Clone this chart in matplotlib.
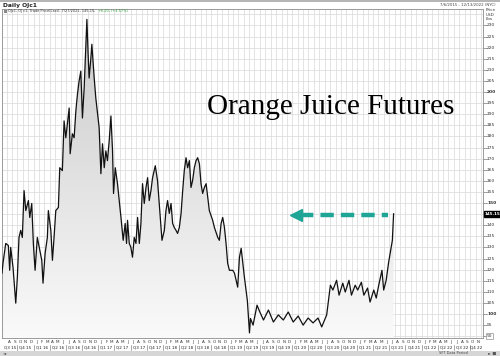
import numpy as np
import pandas as pd
import matplotlib
matplotlib.use("Agg")
import matplotlib.pyplot as plt
import matplotlib.dates as mdates
import matplotlib.transforms as mtransforms
from matplotlib.colors import LinearSegmentedColormap
from matplotlib.patches import Rectangle

# ── data: OJc1 weekly trace (USD/lb), weeks counted from 2015-07-06 ─────────
start = pd.Timestamp("2015-07-06")
weeks = [0, 0.8, 3, 5.1, 6.2, 7, 8.9, 11.1, 12.4, 13.7, 15.1, 16.4, 17.8, 19.2,
         21.3, 22.4, 24, 25.3, 26.7, 28.5, 30.5, 32.1, 33.1, 34.8, 36.6, 37.4,
         39.4, 40.7, 42, 43.4, 45.5, 46.6, 48.7, 50.1, 51.5, 52.8, 54.2, 55,
         56.8, 58.2, 59.6, 60.9, 62.2, 63.6, 64.9, 66.3, 67.7, 68.5, 69.5, 70.3,
         71.7, 72.5, 74.4, 75.7, 77.8, 78.4, 79.8, 81.1, 82.5, 83.8, 85.1, 86.5,
         87.9, 89.2, 90, 91.4, 93.2, 94.6, 96, 97.8, 99.4, 100.5, 101.3, 102.7,
         104, 105.3, 106.7, 108.1, 109.4, 110.8, 112.1, 113.4, 114.8, 116.2,
         117.5, 118.8, 120.2, 121.5, 123.7, 125.5, 126.9, 128.3, 129.1, 131,
         132.3, 133.6, 135, 136.4, 137.7, 139, 140.4, 141.7, 143.1, 144.5,
         145.8, 147.1, 148.5, 149.8, 151.2, 152.5, 153.8, 155.2, 156.6, 157.9,
         159.3, 160.6, 161.9, 163.3, 164.7, 166, 167.3, 170, 171.4, 174.1,
         175.4, 176.8, 178.1, 179.5, 180.8, 182.1, 183.5, 186.2, 187.6, 190.2,
         191.6, 193, 194.3, 195.6, 198, 199.7, 200.5, 202.6, 205.8, 208, 211,
         215, 219, 223, 227, 231, 235, 239, 243, 247, 251, 255, 258, 262, 265,
         267, 270, 272, 275, 277, 280, 282, 285, 287, 290, 292, 295, 297, 300,
         302, 304, 306.6, 308, 310, 312, 315, 316]
prices = [118.4, 122.9, 131.8, 130.9, 119.7, 130.0, 121.0, 104.9, 116.6, 134.5,
          137.7, 134.5, 155.6, 146.6, 151.1, 143.5, 149.8, 131.8, 119.7, 134.5,
          128.7, 124.2, 113.9, 127.4, 134.5, 146.6, 137.7, 124.2, 134.5, 146.6,
          148.0, 165.9, 164.6, 187.0, 179.4, 185.7, 192.8, 172.2, 181.2, 179.4,
          191.5, 199.1, 204.9, 209.4, 188.3, 201.8, 221.5, 232.7, 217.0, 206.3,
          215.2, 221.5, 206.3, 197.3, 187.0, 183.9, 163.2, 176.7, 165.9, 173.5,
          169.1, 178.0, 189.2, 173.5, 154.3, 165.9, 158.7, 151.1, 143.5, 133.2,
          140.8, 131.8, 142.2, 131.8, 130.0, 125.6, 134.5, 131.8, 143.5, 131.8,
          140.8, 158.7, 149.8, 157.0, 161.4, 151.1, 155.6, 161.4, 166.8, 160.1,
          149.8, 139.0, 133.2, 137.7, 146.6, 151.1, 145.3, 149.8, 140.8, 139.0,
          137.7, 136.3, 139.0, 145.3, 155.6, 164.6, 170.4, 165.9, 169.1, 157.0,
          160.1, 165.9, 169.1, 170.4, 167.7, 158.7, 154.3, 157.0, 158.7, 152.5,
          146.6, 142.2, 139.0, 134.5, 133.2, 140.8, 143.5, 139.0, 131.8, 122.9,
          119.7, 119.7, 118.4, 112.1, 125.6, 129.6, 122.9, 116.6, 106.0, 91.5,
          98.0, 95.0, 104.0, 101.0, 97.3, 101.8, 96.4, 99.6, 97.3, 100.9,
          96.4, 99.1, 95.0, 98.2, 96.0, 98.2, 94.2, 99.6, 113.0, 110.8,
          115.2, 108.5, 113.9, 109.9, 115.2, 108.5, 113.0, 110.8, 114.3, 108.5,
          111.7, 105.4, 110.8, 107.2, 113.0, 119.7, 110.8, 115.2, 123.3, 133.2,
          145.15]
last_price = 145.15
y_ticks = list(range(90, 235, 5))
x_start, x_end = pd.Timestamp("2015-07-06"), pd.Timestamp("2022-12-13")

dates = mdates.date2num(start + pd.to_timedelta(np.array(weeks) * 7, unit="D"))
x0n, x1n = mdates.date2num(x_start), mdates.date2num(x_end)

# ── figure ──────────────────────────────────────────────────────────────────
W, H = 500, 356
fig = plt.figure(figsize=(W / 100, H / 100), dpi=100)
fig.patch.set_facecolor("white")

def fx(px):
    return px / W

def fy(py):
    return 1 - py / H

ax = fig.add_axes([fx(2), fy(338), fx(483) - fx(2), fy(9) - fy(338)])
ylo, yhi = 89.2, 237.4

# grid: monthly verticals, every 5 horizontally
months = pd.date_range("2015-08-01", "2022-12-01", freq="MS")
for m in months:
    ax.axvline(mdates.date2num(m), color="#dedede", lw=0.6, zorder=0)
for t in y_ticks + [235]:
    ax.axhline(t, color="#dedede", lw=0.6, zorder=0)

# gradient fill under the line
poly = ax.fill_between(dates, prices, ylo, facecolor="none", edgecolor="none")
cmap = LinearSegmentedColormap.from_list("g", ["#fafafa", "#c9c9c9"])
grad = np.linspace(0, 1, 256).reshape(-1, 1)
img = ax.imshow(grad, cmap=cmap, extent=[x0n, x1n, ylo, 235], aspect="auto",
                origin="lower", zorder=1, interpolation="bilinear")
img.set_clip_path(poly.get_paths()[0], transform=ax.transData)
ax.plot(dates, prices, color="#111111", lw=0.9, zorder=3)

ax.set_xlim(x0n, x1n)
ax.set_ylim(ylo, yhi)
ax.set_xticks([])
ax.set_yticks([])
for s in ax.spines.values():
    s.set_color("#9a9a9a")
    s.set_linewidth(0.7)

# ── right price axis ────────────────────────────────────────────────────────
ry = mtransforms.blended_transform_factory(fig.transFigure, ax.transData)
tick_tr = mtransforms.blended_transform_factory(ax.transAxes, ax.transData)
for t in y_ticks:
    bold = t % 50 == 0
    ax.plot([1.0, 1.008], [t, t], transform=tick_tr, color="#777777", lw=0.5,
            clip_on=False)
    if abs(t - last_price) < 3 or t == 90:
        continue
    fig.text(fx(487), t, str(t), transform=ry, fontsize=3.2, va="center",
             ha="left", color="#333333", fontweight="bold" if bold else "normal")
fig.text(fx(487), 90, "90", transform=ry, fontsize=3.2, va="center", ha="left",
         color="#333333", bbox=dict(boxstyle="square,pad=0.2", fc="white",
                                    ec="#777777", lw=0.4))
fig.text(fx(484.5), last_price, "145.15", transform=ry, fontsize=3.0, va="center",
         ha="left", color="white", fontweight="bold",
         bbox=dict(boxstyle="square,pad=0.2", fc="black", ec="black"))
fig.text(fx(486), fy(8), "Price\nUSD\nLbs", fontsize=3, va="top", ha="left",
         color="#333333", linespacing=1.2)

# ── bottom time axis ────────────────────────────────────────────────────────
bt = mtransforms.blended_transform_factory(ax.transData, fig.transFigure)
for m in months:
    mid = m + pd.Timedelta(days=15)
    if mid > x_end:
        continue
    fig.text(mdates.date2num(mid), fy(342), m.strftime("%b")[0], transform=bt,
             fontsize=3, ha="center", va="center", color="#333333")
quarters = pd.date_range("2015-07-01", "2022-10-01", freq="QS")
for q in quarters:
    q_end = q + pd.DateOffset(months=3)
    lo, hi = max(q, x_start), min(q_end, x_end)
    mid = lo + (hi - lo) / 2
    fig.text(mdates.date2num(mid), fy(347.5), f"Q{q.quarter} {q.strftime('%y')}",
             transform=bt, fontsize=3, ha="center", va="center", color="#222222")
    if q > x_start:
        qn = mdates.date2num(q)
        ax.plot([qn, qn], [fy(344.5), fy(350)], transform=bt, color="#666666",
                lw=0.4, clip_on=False)

# ── header / footer ─────────────────────────────────────────────────────────
fig.add_artist(Rectangle((0, fy(1.5)), 1, fy(0) - fy(1.5), transform=fig.transFigure,
                         fc="#b5b5b5", ec="none"))
fig.text(fx(3), fy(5), "Daily OJc1", fontsize=4.3, fontweight="bold",
         va="center", ha="left", color="#222222")
fig.text(fx(496), fy(5.5), "7/6/2015 - 12/13/2022 (NYC)", fontsize=2.8,
         va="center", ha="right", color="#444444")
fig.add_artist(Rectangle((0, 0), 1, fy(351), transform=fig.transFigure,
                         fc="#d6d6d6", ec="none"))
fig.text(fx(3), fy(353.5), "\u25c4", fontsize=3, va="center", ha="left",
         color="#555555")
fig.text(fx(468), fy(353.5), "SFT Data Period", fontsize=2.6, va="center",
         ha="right", color="#444444")
fig.text(fx(488), fy(353.5), "\u25ba \u25a0", fontsize=3, va="center",
         ha="left", color="#555555")

# legend line inside the chart
fig.add_artist(Rectangle((fx(4), fy(12.5)), fx(3), fy(9.5) - fy(12.5),
                         transform=fig.transFigure, fc="#888888", ec="none"))
leg = fig.text(fx(8.5), fy(11), "OJc1, OJ c1, Trade Price(Last), 7/27/2021, 145.15, ",
               fontsize=2.5, va="center", ha="left", color="#333333")
fig.canvas.draw()
bb = leg.get_window_extent().transformed(fig.transFigure.inverted())
fig.text(bb.x1 + fx(0.5), fy(11), "+6.20, (+4.57%)", fontsize=2.5, va="center",
         ha="left", color="#2e9e3a")

# ── annotation ──────────────────────────────────────────────────────────────
fig.text(fx(207), fy(107), "Orange Juice Futures", fontsize=21,
         family="Liberation Serif", va="center", ha="left", color="black")
teal = "#1ea596"
arrow_y = fy(215)
fig.add_artist(plt.Line2D([fx(300), fx(388)], [arrow_y, arrow_y],
                          transform=fig.transFigure, color=teal, lw=3.2,
                          dashes=(3.0, 1.6)))
fig.add_artist(plt.Line2D([fx(296)], [arrow_y], transform=fig.transFigure,
                          marker="<", ms=8, color=teal, mec=teal, lw=0))

fig.savefig("out.png", dpi=100)
